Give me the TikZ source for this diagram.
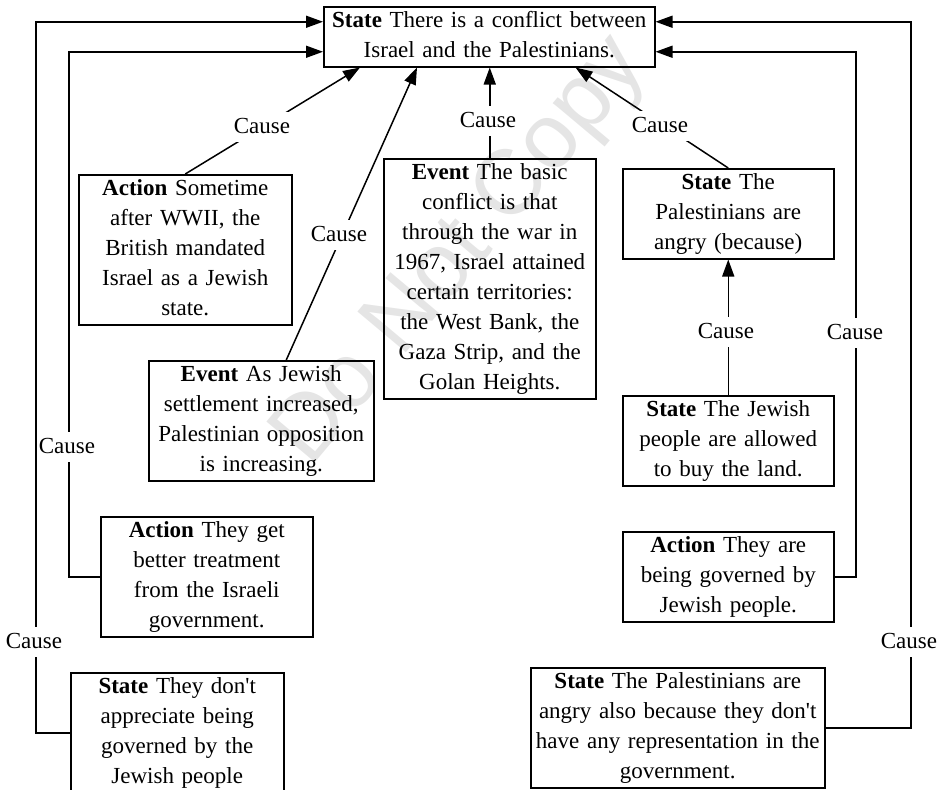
\documentclass[tikz,border=0pt]{standalone}
\usepackage{fontspec}
\newfontfamily\dfont{Liberation Serif}
\newfontfamily\wmfont{Liberation Sans}
\usetikzlibrary{arrows.meta}

\begin{document}
\begin{tikzpicture}[x=1pt,y=-1pt,
  box/.style={draw, line width=1.5pt, inner sep=0pt, anchor=north west,
    align=center, font=\dfont\fontsize{23}{30}\selectfont,
    execute at begin node=\strut, execute at end node=\strut},
  lbl/.style={fill=white, inner xsep=2pt, inner ysep=0pt,
    font=\dfont\fontsize{23}{30}\selectfont, execute at begin node=\strut},
  conn/.style={line width=1.5pt},
  arr/.style={conn, -{Triangle[length=17pt,width=12pt]}}]

\useasboundingbox (0,0) rectangle (940,790);

% faint watermark behind everything
\node[rotate=50, text=black!10, font=\wmfont\fontsize{92}{92}\selectfont] (wm) at (462,252) {Do Not Copy};

% boxes
\node[box, text width=331pt] (top) at (323,6)
  {\textbf{State} There is a conflict between\\Israel and the Palestinians.};
\node[box, text width=213pt] (act1) at (78,174)
  {\textbf{Action} Sometime\\after WWII, the\\British mandated\\Israel as a Jewish\\state.};
\node[box, text width=225pt] (ev2) at (148,360)
  {\textbf{Event} As Jewish\\settlement increased,\\Palestinian opposition\\is increasing.};
\node[box, text width=212pt] (ev1) at (383,158)
  {\textbf{Event} The basic\\conflict is that\\through the war in\\1967, Israel attained\\certain territories:\\the West Bank, the\\Gaza Strip, and the\\Golan Heights.};
\node[box, text width=211pt] (angry) at (622,168)
  {\textbf{State} The\\Palestinians are\\angry (because)};
\node[box, text width=211pt] (land) at (622,395)
  {\textbf{State} The Jewish\\people are allowed\\to buy the land.};
\node[box, text width=211pt] (gov) at (622,531)
  {\textbf{Action} They are\\being governed by\\Jewish people.};
\node[box, text width=294pt] (repr) at (530,667)
  {\textbf{State} The Palestinians are\\angry also because they don't\\have any representation in the\\government.};
\node[box, text width=212pt] (better) at (100,516)
  {\textbf{Action} They get\\better treatment\\from the Israeli\\government.};
\node[box, text width=213pt] (dont) at (70,672)
  {\textbf{State} They don't\\appreciate being\\governed by the\\Jewish people};

% entry points on the top box and the routing lanes
\coordinate (T1L) at ([yshift=15pt]top.west);
\coordinate (T2L) at ([yshift=-15pt]top.west);
\coordinate (T1R) at ([yshift=15pt]top.east);
\coordinate (T2R) at ([yshift=-15pt]top.east);
\coordinate (laneL1) at (36,0);
\coordinate (laneL2) at (69,0);
\coordinate (laneR1) at (856,0);
\coordinate (laneR2) at (911,0);

% direct causes
\draw[arr] (act1.north) -- ([xshift=37pt]top.south west);
\draw[arr] ([xshift=25pt]ev2.north) -- ([xshift=94pt]top.south west);
\draw[arr] (ev1.north) -- (ev1.north |- top.south);
\draw[arr] (angry.north) -- ([xshift=-80pt]top.south east);
\draw[arr] (land.north) -- (angry.south);

% routed causes
\draw[arr] (dont.west) -| (laneL1 |- T1L) -- (T1L);
\draw[arr] (better.west) -| (laneL2 |- T2L) -- (T2L);
\draw[arr] (gov.east) -| (laneR1 |- T2R) -- (T2R);
\draw[arr] (repr.east) -| (laneR2 |- T1R) -- (T1R);

% labels
\node[lbl] (c1) at (262,127) {Cause};
\node[lbl] (c2) at (339,235) {Cause};
\node[lbl] (c3) at (488,121) {Cause};
\node[lbl] (c4) at (660,126) {Cause};
\node[lbl] (c5) at (726,332) {Cause};
\node[lbl] (c6) at (855,333) {Cause};
\node[lbl] (c7) at (909,642) {Cause};
\node[lbl] (c8) at (67,447) {Cause};
\node[lbl] (c9) at (34,642) {Cause};
\end{tikzpicture}
\end{document}
